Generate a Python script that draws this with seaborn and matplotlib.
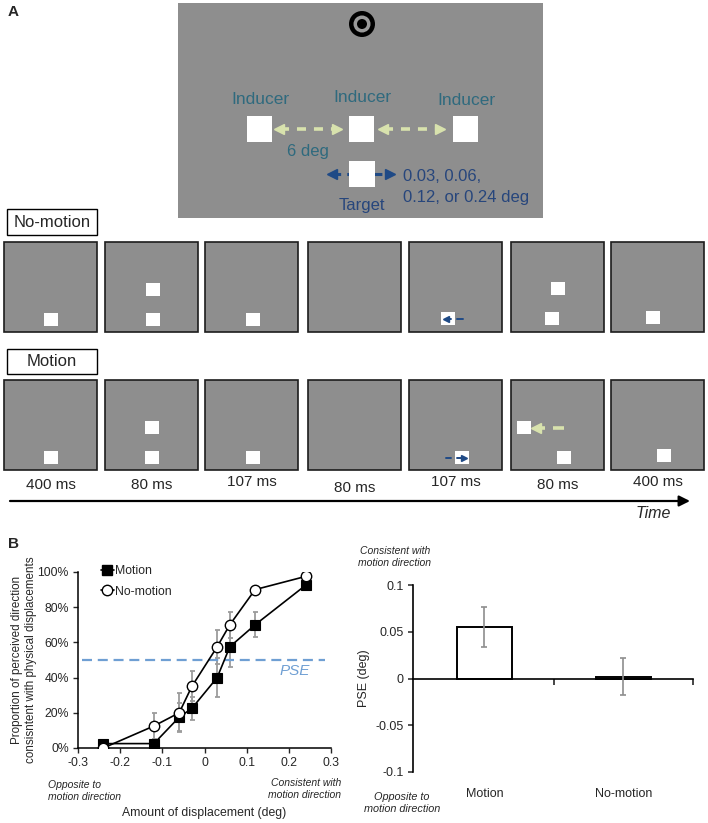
import numpy as np
import pandas as pd
import matplotlib
matplotlib.use("Agg")
import matplotlib.pyplot as plt
import seaborn as sns
from matplotlib.patches import Rectangle, Circle
from matplotlib.lines import Line2D

# ---------------- data ----------------
displacement = [-0.24, -0.12, -0.06, -0.03, 0.03, 0.06, 0.12, 0.24]
motion_prop = [2.5, 2.5, 17.5, 22.5, 40, 57.5, 70, 92.5]
motion_err = [0, 0, 8, 6.5, 11, 11.5, 7, 1.5]
nomotion_prop = [0, 12.5, 20, 35, 57.5, 70, 90, 97.5]
nomotion_err = [0, 7.5, 11, 8.5, 9.5, 7.5, 0, 0]
pse_level = 50

conditions = ["Motion", "No-motion"]
pse_values = [0.055, 0.002]
pse_err = [0.021, 0.0195]

left_xticks = [-0.3, -0.2, -0.1, 0, 0.1, 0.2, 0.3]
left_xticklabels = ["-0.3", "-0.2", "-0.1", "0", "0.1", "0.2", "0.3"]
left_yticks = [0, 20, 40, 60, 80, 100]
left_yticklabels = ["0%", "20%", "40%", "60%", "80%", "100%"]
right_yticks = [-0.1, -0.05, 0, 0.05, 0.1]
right_yticklabels = ["-0.1", "-0.05", "0", "0.05", "0.1"]

durations = ["400 ms", "80 ms", "107 ms", "80 ms", "107 ms", "80 ms", "400 ms"]

# ---------------- style ----------------
sns.set_style("ticks")
plt.rcParams["font.family"] = ["Liberation Sans", "DejaVu Sans"]
plt.rcParams["axes.linewidth"] = 1.1

W, H = 708, 823
fig = plt.figure(figsize=(W / 100, H / 100), dpi=100)
fig.patch.set_facecolor("white")

# overlay axes in pixel coordinates for the schematic (panel A)
ax0 = fig.add_axes([0, 0, 1, 1], zorder=0)
ax0.set_xlim(0, W)
ax0.set_ylim(H, 0)
ax0.axis("off")

GRAY = "#8e8e8e"
TEAL = "#2f6a7e"
NAVY = "#27467c"
BLUE_AR = "#1f4a86"
YEL = "#d8e2ad"


def rect(x0, y0, w, h, fc, ec="none", lw=0, z=1):
    ax0.add_patch(Rectangle((x0, y0), w, h, facecolor=fc, edgecolor=ec, linewidth=lw, zorder=z))


def dashed_double_arrow(x0, x1, y, color, lw, ms, dash):
    ax0.plot([x0 + 4, x1 - 4], [y, y], color=color, lw=lw, linestyle=(0, dash),
             solid_capstyle="butt", zorder=2)
    ax0.plot([x0 + 3], [y], marker="<", ms=ms, color=color, mec=color, zorder=3)
    ax0.plot([x1 - 3], [y], marker=">", ms=ms, color=color, mec=color, zorder=3)


# panel labels
ax0.text(8, 12, "A", fontsize=11, fontweight="bold", ha="left", va="center")
ax0.text(8, 544, "B", fontsize=11, fontweight="bold", ha="left", va="center")

# ---- top stimulus panel ----
rect(178, 3, 365, 215, GRAY)
ax0.add_patch(Circle((362, 24), 13, facecolor="black", edgecolor="none", zorder=2))
ax0.add_patch(Circle((362, 24), 8.5, facecolor="#9a9a9a", edgecolor="none", zorder=3))
ax0.add_patch(Circle((362, 24), 5, facecolor="black", edgecolor="none", zorder=4))

for cx, cy in [(260, 99), (362, 97), (466, 100)]:
    ax0.text(cx, cy, "Inducer", color=TEAL, fontsize=12.5, ha="center", va="center")
for x0 in [247, 349, 453]:
    rect(x0, 116, 25, 26, "white", z=3)
dashed_double_arrow(276, 340, 129, YEL, 2.6, 7.5, (2.5, 2.2))
dashed_double_arrow(380, 443, 129, YEL, 2.6, 7.5, (2.5, 2.2))
ax0.text(308, 151, "6 deg", color=TEAL, fontsize=12, ha="center", va="center")

dashed_double_arrow(329, 393, 174, BLUE_AR, 2.2, 6.5, (2.5, 2.0))
rect(349, 161, 26, 26, "white", z=4)
ax0.text(362, 205, "Target", color=NAVY, fontsize=12, ha="center", va="center")
ax0.text(403, 176, "0.03, 0.06,", color=NAVY, fontsize=12, ha="left", va="center")
ax0.text(403, 197, "0.12, or 0.24 deg", color=NAVY, fontsize=12, ha="left", va="center")

# ---- condition label boxes ----
rect(7, 209, 90, 26, "white", ec="black", lw=1.0)
ax0.text(52, 222, "No-motion", fontsize=12, ha="center", va="center")
rect(7, 349, 90, 25, "white", ec="black", lw=1.0)
ax0.text(52, 361.5, "Motion", fontsize=12, ha="center", va="center")

# ---- frames ----
frame_left = [4, 105, 205, 308, 409, 511, 611]
row_tops = [242, 380]
for top in row_tops:
    for fl in frame_left:
        rect(fl, top, 93, 90, GRAY, ec="#1c1c1c", lw=1.2)

sq_row1 = [(44, 313), (146, 283), (146, 313), (246, 313), (441, 312),
           (551, 282), (545, 312), (646, 311)]
sq_row2 = [(44, 451), (145, 421), (145, 451), (246, 451), (455, 451),
           (517, 421), (557, 451), (657, 449)]
for (sx, sy) in sq_row1 + sq_row2:
    rect(sx, sy, 14, 13, "white", z=3)

# small arrows inside frames
ax0.plot([446, 451], [318.5, 318.5], color=BLUE_AR, lw=1.4, zorder=4)
ax0.plot([446], [318.5], marker="<", ms=4, color=BLUE_AR, zorder=4)
ax0.plot([457, 463], [318.5, 318.5], color=BLUE_AR, lw=1.4, zorder=4)

ax0.plot([446, 451], [457.5, 457.5], color=BLUE_AR, lw=1.4, zorder=4)
ax0.plot([457, 463], [457.5, 457.5], color=BLUE_AR, lw=1.4, zorder=4)
ax0.plot([464], [457.5], marker=">", ms=4, color=BLUE_AR, zorder=4)

ax0.plot([537, 545], [428, 428], color=YEL, lw=2.6, zorder=4, solid_capstyle="butt")
ax0.plot([536], [428], marker="<", ms=7, color=YEL, zorder=4)
ax0.plot([553, 564], [428, 428], color=YEL, lw=2.6, zorder=4, solid_capstyle="butt")

# durations
dur_y = [485, 485, 482, 488, 482, 485, 482]
for fl, d, dy in zip(frame_left, durations, dur_y):
    ax0.text(fl + 46.5, dy, d, fontsize=11, ha="center", va="center")

ax0.annotate("", xy=(690, 501), xytext=(10, 501),
             arrowprops=dict(arrowstyle="-|>", lw=1.6, color="black", mutation_scale=16,
                             shrinkA=0, shrinkB=0))
ax0.text(653, 514, "Time", fontsize=11.5, style="italic", ha="center", va="center")

# ---------------- panel B left: psychometric curves ----------------
ax1 = fig.add_axes([78 / W, 1 - 748 / H, 253 / W, 176 / H], zorder=2)
ax1.set_facecolor("none")

disp = np.array(displacement)
m_err = np.array(motion_err)
n_err = np.array(nomotion_err)
mk = m_err > 0
nk = n_err > 0
ax1.errorbar(disp[mk], np.array(motion_prop)[mk], yerr=m_err[mk], fmt="none",
             ecolor="#9c9c9c", elinewidth=1.3, capsize=1.8, capthick=1.3, zorder=1)
ax1.errorbar(disp[nk], np.array(nomotion_prop)[nk], yerr=n_err[nk], fmt="none",
             ecolor="#9c9c9c", elinewidth=1.3, capsize=1.8, capthick=1.3, zorder=1)

ax1.axhline(pse_level, xmin=0.015, xmax=0.975, color="#6f9fd3", lw=1.6,
            linestyle=(0, (4.5, 2.6)), zorder=1.5)

sns.lineplot(x=displacement, y=motion_prop, ax=ax1, color="black", marker="s",
             markersize=7.5, markeredgecolor="black", markerfacecolor="black",
             markeredgewidth=0.8, linewidth=1.2, errorbar=None, zorder=3)
sns.lineplot(x=displacement, y=nomotion_prop, ax=ax1, color="black", marker="o",
             markersize=7.5, markeredgecolor="black", markerfacecolor="white",
             markeredgewidth=1.0, linewidth=1.2, errorbar=None, zorder=4)

ax1.set_xlim(-0.3, 0.3)
ax1.set_ylim(0, 100)
ax1.set_xticks(left_xticks)
ax1.set_xticklabels(left_xticklabels)
ax1.set_yticks(left_yticks)
ax1.set_yticklabels(left_yticklabels)
ax1.tick_params(axis="both", direction="out", length=3.5, width=1.0, labelsize=8.8, pad=3)
ax1.set_xlabel("")
ax1.set_ylabel("Proportion of perceived direction\nconsisntent with physical displacements",
               fontsize=8.4, labelpad=0.5, linespacing=1.2)
sns.despine(ax=ax1)
for s in ["left", "bottom"]:
    ax1.spines[s].set_linewidth(1.1)
    ax1.spines[s].set_color("black")

ax1.text(0.215, 44, "PSE", color="#6f9fd3", fontsize=11, style="italic",
         ha="center", va="center")

leg_handles = [Line2D([0], [0], color="black", lw=1.2, marker="s", ms=7.5, mfc="black", mec="black"),
               Line2D([0], [0], color="black", lw=1.2, marker="o", ms=7.5, mfc="white", mec="black")]
ax1.legend(leg_handles, conditions, loc="upper left", bbox_to_anchor=(0.09, 1.04),
           frameon=False, fontsize=8.8, handlelength=1.1, handletextpad=0.05,
           labelspacing=0.7, borderaxespad=0, borderpad=0)

ax0.text(204, 813, "Amount of displacement (deg)", fontsize=8.8, ha="center", va="center")
ax0.text(48, 791, "Opposite to\nmotion direction", fontsize=7.5, style="italic",
         ha="left", va="center", linespacing=1.25)
ax0.text(341, 789, "Consistent with\nmotion direction", fontsize=7.5, style="italic",
         ha="right", va="center", linespacing=1.25, multialignment="right")

# ---------------- panel B right: PSE bars ----------------
ax2 = fig.add_axes([413 / W, 1 - 772 / H, 280 / W, 187 / H], zorder=2)
ax2.set_facecolor("none")
sns.barplot(x=conditions, y=pse_values, ax=ax2, color="white", saturation=1,
            edgecolor="black", linewidth=1.4, width=0.4, errorbar=None, zorder=2)
ax2.errorbar(np.arange(len(conditions)), pse_values, yerr=pse_err, fmt="none",
             ecolor="#8e8e8e", elinewidth=1.2, capsize=2.5, capthick=1.2, zorder=3)
ax2.set_xlim(-0.514, 1.5)
ax2.set_ylim(-0.1, 0.1)
ax2.set_yticks(right_yticks)
ax2.set_yticklabels(right_yticklabels)
ax2.spines["top"].set_visible(False)
ax2.spines["right"].set_visible(False)
ax2.spines["bottom"].set_position(("data", 0))
for s in ["left", "bottom"]:
    ax2.spines[s].set_linewidth(1.2)
    ax2.spines[s].set_color("black")
ax2.set_xticks(np.arange(len(conditions)))
ax2.set_xticklabels(conditions)
ax2.set_xticks([0.5, 1.5], minor=True)
ax2.tick_params(axis="x", which="major", length=0, pad=79, labelsize=9)
ax2.tick_params(axis="x", which="minor", length=4, width=1.2, direction="out")
ax2.tick_params(axis="y", direction="out", length=3.5, width=1.1, labelsize=9, pad=3)
ax2.set_xlabel("")
ax2.set_ylabel("PSE (deg)", fontsize=9, labelpad=4)

ax0.text(395, 557, "Consistent with\nmotion direction", fontsize=7.5, style="italic",
         ha="center", va="center", linespacing=1.3)
ax0.text(402, 803, "Opposite to\nmotion direction", fontsize=7.8, style="italic",
         ha="center", va="center", linespacing=1.25)

fig.savefig("out.png", dpi=100, facecolor="white")
